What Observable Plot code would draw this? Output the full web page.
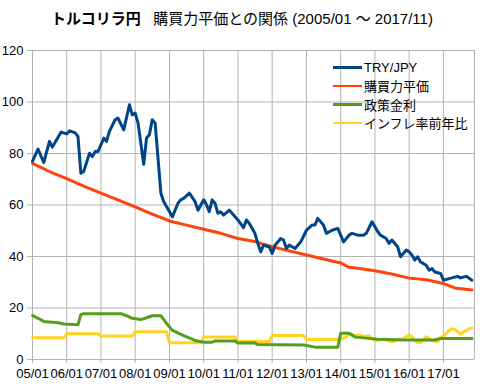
<!DOCTYPE html>
<html>
<head>
<meta charset="utf-8">
<script src="https://cdn.jsdelivr.net/npm/d3@7"></script>
<script src="https://cdn.jsdelivr.net/npm/@observablehq/plot@0.6"></script>
<style>
  body { margin: 0; background: #fff; }
  #wrap { position: relative; width: 489px; height: 384px; font-family: "Liberation Sans", Arial, "Noto Sans CJK JP", sans-serif; }
  #title { position: absolute; left: 0; top: 7px; width: 484px; text-align: center; font-size: 15px; color: #000; white-space: nowrap; }
  #title b { font-weight: bold; }
  #chart { position: absolute; left: 0; top: 36px; }
  #legend { position: absolute; left: 333px; top: 58px; font-size: 13px; color: #000; }
  .lg { display: flex; align-items: center; height: 18.5px; white-space: nowrap; }
  .lg span.sw { display: inline-block; width: 29px; height: 2.5px; margin-right: 2px; }
</style>
</head>
<body>
<div id="wrap">
  <div id="title"><b>トルコリラ円</b>&nbsp;&nbsp;&nbsp;購買力平価との関係 (2005/01 ～ 2017/11)</div>
  <div id="chart"></div>
  <div id="legend"></div>
</div>
<script>
// ---- data ----
const seriesNames = ["TRY/JPY", "購買力平価", "政策金利", "インフレ率前年比"];
const seriesColors = ["#004586", "#ff420e", "#579d1c", "#ffd320"];

const tryDates = ["2005/01","2005/03","2005/05","2005/07","2005/08","2005/11","2006/01","2006/02","2006/04","2006/05","2006/06","2006/07","2006/09","2006/10","2006/11","2006/12","2007/02","2007/03","2007/04","2007/06","2007/07","2007/09","2007/11","2007/12","2008/01","2008/02","2008/04","2008/05","2008/06","2008/07","2008/08","2008/10","2008/11","2009/02","2009/04","2009/05","2009/06","2009/08","2009/10","2009/11","2010/01","2010/02","2010/03","2010/04","2010/05","2010/06","2010/07","2010/08","2010/10","2010/12","2011/01","2011/03","2011/04","2011/05","2011/07","2011/08","2011/09","2011/10","2011/12","2012/01","2012/02","2012/04","2012/05","2012/06","2012/07","2012/09","2012/11","2013/01","2013/03","2013/04","2013/05","2013/07","2013/08","2013/10","2013/12","2014/02","2014/04","2014/05","2014/07","2014/09","2014/10","2014/12","2015/02","2015/03","2015/05","2015/06","2015/07","2015/09","2015/10","2015/12","2016/01","2016/02","2016/03","2016/04","2016/05","2016/07","2016/08","2016/09","2016/10","2016/12","2017/01","2017/03","2017/04","2017/06","2017/07","2017/09","2017/11"];
const tryValues = [77,81.7,76.5,84.7,82.5,88.3,87.6,88.8,88,86.6,72.3,73,80.1,78.8,80.8,80.8,86,84.7,88.6,93.1,93.8,89.2,98.9,95,95.7,91.8,75.8,86,87.3,93.1,91.8,64.6,61.3,55.4,60.7,62,62.6,64.6,61.3,58,62,60,57.4,62,60.7,56.8,57.4,56.1,58,55.4,54.2,51.2,54.2,52.9,49,45.1,41.8,44.4,43.7,41.2,44.4,47,46.4,43.1,44.4,43.1,45.7,50.2,52.2,52.2,54.8,52.2,49,50.2,50.9,45.7,48.3,49,48.3,48.3,49,53.5,49.6,48.3,47,45.1,46.4,43.7,39.9,42.5,41.8,40.5,38.6,39.9,37.9,36.6,34.7,35.3,34,33.4,30.8,31.4,31.7,32.3,31.7,32.3,30.8];

const pppDates = ["2005/01","2005/07","2006/01","2006/07","2007/01","2007/07","2008/01","2008/07","2009/01","2009/07","2010/01","2010/07","2011/01","2011/07","2012/01","2012/07","2013/01","2013/07","2014/01","2014/04","2014/07","2015/01","2015/07","2016/01","2016/07","2017/01","2017/05","2017/11"];
const pppValues = [76.2,73,70.2,67.3,64.6,62,59.3,56.5,53.8,52.2,50.6,49,47,45.8,43.8,42.2,40.6,39,37.5,35.8,35.4,34.5,33.2,31.6,31,29.5,27.8,27];

const rateDates = ["2005/01","2005/03","2005/05","2005/10","2005/12","2006/05","2006/06","2006/07","2007/08","2007/10","2007/12","2008/03","2008/05","2008/07","2008/10","2008/12","2009/02","2009/06","2009/10","2010/01","2010/04","2010/05","2010/12","2011/01","2011/07","2011/08","2012/12","2013/04","2013/12","2014/01","2014/04","2014/06","2014/09","2015/02","2015/12","2016/10","2016/12","2017/11"];
const rateValues = [17.1,16,14.8,14.3,13.8,13.5,17.5,17.8,17.8,17,16,15.5,16.2,17,17,14,11.3,9.3,7.4,6.7,6.7,7.2,7.2,6.4,6.4,5.8,5.6,4.8,4.8,10.2,10.2,8.7,8.4,7.9,7.6,7.6,8.2,8.2];

const inflDates = ["2005/01","2005/12","2006/01","2006/12","2007/01","2007/12","2008/01","2008/12","2009/01","2009/12","2010/01","2010/12","2011/01","2011/12","2012/01","2012/12","2013/01","2013/12",
  "2014/01","2014/02","2014/03","2014/04","2014/05","2014/06","2014/07","2014/08","2014/09","2014/10","2014/11","2014/12",
  "2015/01","2015/02","2015/03","2015/04","2015/05","2015/06","2015/07","2015/08","2015/09","2015/10","2015/11","2015/12",
  "2016/01","2016/02","2016/03","2016/04","2016/05","2016/06","2016/07","2016/08","2016/09","2016/10","2016/11","2016/12",
  "2017/01","2017/02","2017/03","2017/04","2017/05","2017/06","2017/07","2017/08","2017/09","2017/10","2017/11"];
const inflValues = [8.4,8.4,10,10,9.1,9.1,10.8,10.8,6.5,6.5,8.7,8.7,7,7,9.3,9.3,7.8,7.8,
  8,8.3,8.9,9.6,9.8,9.3,9.4,9.4,9,9,9.1,8.3,
  7.4,7.6,7.7,7.9,8,7.2,6.9,7.2,7.9,7.6,8.1,8.8,
  9.6,8.8,7.5,6.6,6.6,7.6,8.8,8.1,7.3,7.2,7,8.5,
  9.2,10.1,11.3,11.9,11.7,10.9,9.8,10.7,11.2,11.9,12.2];

const yTicks = [0, 20, 40, 60, 80, 100, 120];
const xTickLabels = ["05/01","06/01","07/01","08/01","09/01","10/01","11/01","12/01","13/01","14/01","15/01","16/01","17/01"];

// ---- build ----
const parse = d3.utcParse("%Y/%m");
const toRows = (dates, values) => dates.map((d, i) => ({date: parse(d), value: values[i]}));
const series = [
  toRows(tryDates, tryValues),
  toRows(pppDates, pppValues),
  toRows(rateDates, rateValues),
  toRows(inflDates, inflValues)
];
const xTicks = xTickLabels.map(s => d3.utcParse("%y/%m")(s));
const xStart = parse("2005/01");
const xEnd = new Date(Date.UTC(2017, 10, 28));
const grid = "#b3b3b3";

const chart = Plot.plot({
  width: 489,
  height: 348,
  marginLeft: 32,
  marginRight: 15,
  marginTop: 14,
  marginBottom: 25,
  style: {fontSize: "13px", fontFamily: "'Liberation Sans', Arial, 'Noto Sans CJK JP', sans-serif", background: "#fff", color: "#000"},
  x: {type: "utc", domain: [xStart, xEnd], label: null},
  y: {domain: [0, 120], label: null},
  marks: [
    Plot.gridY(yTicks, {stroke: grid, strokeOpacity: 1}),
    Plot.gridX(xTicks, {stroke: grid, strokeOpacity: 1}),
    Plot.ruleX([xEnd], {stroke: grid}),
    Plot.ruleX([xStart], {stroke: grid}),
    Plot.ruleY([0], {stroke: grid}),
    Plot.axisY(yTicks, {tickSize: 5, tickPadding: 4, stroke: grid, fill: "#000", label: null, tickFormat: d => String(d)}),
    Plot.axisX(xTicks, {tickSize: 4, tickPadding: 5, stroke: grid, fill: "#000", label: null, tickFormat: (d, i) => xTickLabels[i]}),
    ...series.map((rows, i) => Plot.line(rows, {x: "date", y: "value", stroke: seriesColors[i], strokeWidth: 3, strokeLinejoin: "round", strokeLinecap: "round"})).reverse()
  ]
});
document.getElementById("chart").appendChild(chart);

const legend = document.getElementById("legend");
seriesNames.forEach((name, i) => {
  const row = document.createElement("div");
  row.className = "lg";
  const sw = document.createElement("span");
  sw.className = "sw";
  sw.style.background = seriesColors[i];
  row.appendChild(sw);
  row.appendChild(document.createTextNode(name));
  legend.appendChild(row);
});
</script>
</body>
</html>
